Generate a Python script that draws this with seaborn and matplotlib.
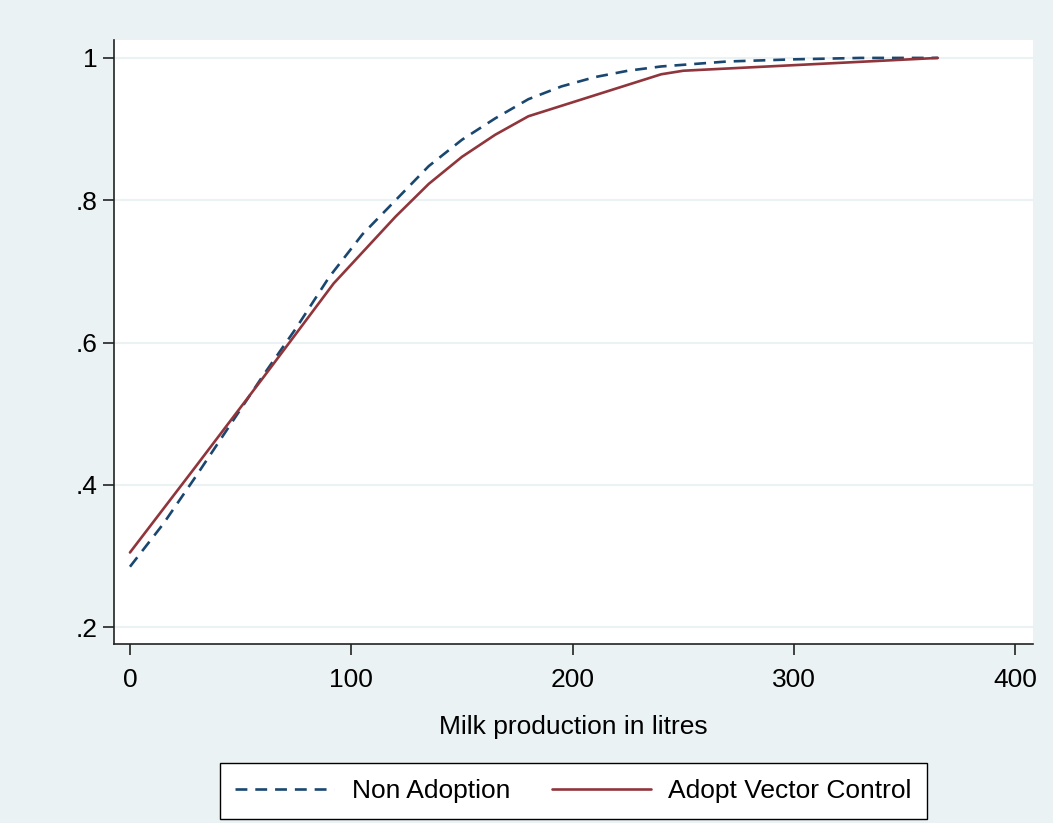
import pandas as pd
import seaborn as sns
import matplotlib.pyplot as plt

# cumulative distribution of milk production
x_non = [0, 15, 30, 45, 60, 75, 90, 105, 120, 135, 150, 165, 180, 195, 210, 225, 240, 270, 300, 330, 365]
y_non = [0.285, 0.345, 0.413, 0.483, 0.553, 0.62, 0.692, 0.752, 0.80, 0.848, 0.885, 0.915, 0.942,
         0.960, 0.973, 0.982, 0.988, 0.995, 0.998, 1.0, 1.0]

x_adopt = [0, 30, 60, 92, 120, 135, 150, 165, 180, 240, 250, 365]
y_adopt = [0.305, 0.427, 0.55, 0.683, 0.777, 0.823, 0.861, 0.892, 0.918, 0.977, 0.982, 1.0]

groups = ["Non Adoption", "Adopt Vector Control"]
colors = ["#1A476F", "#90353B"]
x_ticks = [0, 100, 200, 300, 400]
y_ticks = [0.2, 0.4, 0.6, 0.8, 1.0]
y_tick_labels = [".2", ".4", ".6", ".8", "1"]

df = pd.concat([
    pd.DataFrame({"x": x_non, "y": y_non, "group": groups[0]}),
    pd.DataFrame({"x": x_adopt, "y": y_adopt, "group": groups[1]}),
])

bg = "#EAF2F3"
sns.set_style("white")
plt.rcParams["font.family"] = ["Liberation Sans", "DejaVu Sans"]
plt.rcParams["text.color"] = "black"
plt.rcParams["axes.labelcolor"] = "black"

fig = plt.figure(figsize=(10.53, 8.23), dpi=100, facecolor=bg)
ax = fig.add_axes([0.1083, 0.2175, 0.8727, 0.7340])
ax.set_facecolor("white")

sns.lineplot(data=df, x="x", y="y", hue="group", style="group",
             hue_order=groups, style_order=groups,
             palette=dict(zip(groups, colors)),
             dashes={groups[0]: (4.5, 3), groups[1]: ""},
             linewidth=1.9, ax=ax, legend=False)

ax.set_xlim(-7.2, 408)
ax.set_ylim(0.1764, 1.0253)
ax.set_xticks(x_ticks)
ax.set_xticklabels([str(t) for t in x_ticks])
ax.set_yticks(y_ticks)
ax.set_yticklabels(y_tick_labels)
ax.yaxis.grid(True, color=bg, linewidth=1.5)
ax.set_axisbelow(True)

for side in ["top", "right"]:
    ax.spines[side].set_visible(False)
for side in ["left", "bottom"]:
    ax.spines[side].set_color("#222222")
    ax.spines[side].set_linewidth(1.2)

ax.tick_params(axis="both", direction="out", length=8, width=1.2, color="#222222",
               labelcolor="black", labelsize=19, left=True, bottom=True)
ax.tick_params(axis="x", pad=9)
ax.tick_params(axis="y", pad=4)
ax.set_xlabel("Milk production in litres", fontsize=19, labelpad=17)
ax.set_ylabel("")

handles = [plt.Line2D([], [], color=colors[0], linewidth=1.9, dashes=(4.5, 3)),
           plt.Line2D([], [], color=colors[1], linewidth=1.9)]
leg = ax.legend(handles, groups, loc="upper center", bbox_to_anchor=(0.5, -0.197),
                ncol=2, fontsize=19, frameon=True, fancybox=False, edgecolor="black",
                facecolor="white", framealpha=1,
                handlelength=3.75, handletextpad=0.65, columnspacing=1.6,
                borderpad=0.6, borderaxespad=0)
leg.get_frame().set_linewidth(1.0)

fig.savefig("out.png", dpi=100, facecolor=bg)
